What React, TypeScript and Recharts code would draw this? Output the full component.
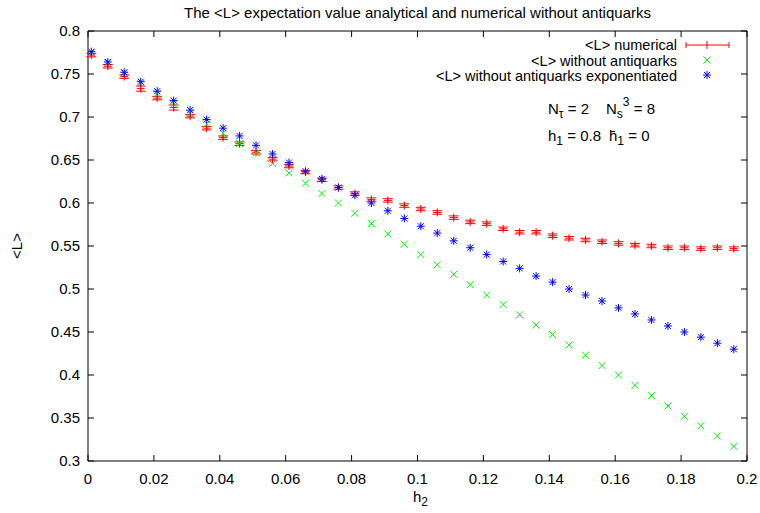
import { ScatterChart, Scatter, XAxis, YAxis, ErrorBar, ReferenceArea } from "recharts";

const h2 = [
  0.001, 0.006, 0.011, 0.016, 0.021, 0.026, 0.031, 0.036, 0.041, 0.046,
  0.051, 0.056, 0.061, 0.066, 0.071, 0.076, 0.081, 0.086, 0.091, 0.096,
  0.101, 0.106, 0.111, 0.116, 0.121, 0.126, 0.131, 0.136, 0.141, 0.146,
  0.151, 0.156, 0.161, 0.166, 0.171, 0.176, 0.181, 0.186, 0.191, 0.196,
];

const numerical = [
  0.772, 0.759, 0.747, 0.733, 0.722, 0.711, 0.701, 0.687, 0.676, 0.669,
  0.659, 0.651, 0.643, 0.636, 0.627, 0.618, 0.611, 0.604, 0.603, 0.597,
  0.593, 0.589, 0.583, 0.578, 0.576, 0.570, 0.566, 0.566, 0.562, 0.559,
  0.557, 0.555, 0.553, 0.551, 0.550, 0.548, 0.548, 0.547, 0.548, 0.547,
];

const numericalErr = [
  0.002, 0.002, 0.002, 0.003, 0.002, 0.003, 0.002, 0.002, 0.002, 0.002,
  0.002, 0.002, 0.002, 0.002, 0.002, 0.002, 0.002, 0.002, 0.002, 0.002,
  0.002, 0.002, 0.002, 0.002, 0.002, 0.002, 0.002, 0.002, 0.002, 0.002,
  0.002, 0.002, 0.002, 0.002, 0.002, 0.002, 0.002, 0.002, 0.002, 0.002,
];

const withoutAnti = [
  0.775, 0.763, 0.751, 0.739, 0.727, 0.715, 0.704, 0.692, 0.681, 0.669,
  0.658, 0.646, 0.635, 0.623, 0.611, 0.600, 0.588, 0.576, 0.564, 0.552,
  0.540, 0.528, 0.517, 0.505, 0.493, 0.482, 0.470, 0.458, 0.447, 0.435,
  0.423, 0.411, 0.400, 0.388, 0.376, 0.364, 0.352, 0.341, 0.329, 0.317,
];

const exponentiated = [
  0.776, 0.764, 0.752, 0.741, 0.730, 0.719, 0.708, 0.697, 0.687, 0.678,
  0.667, 0.657, 0.647, 0.637, 0.628, 0.618, 0.609, 0.600, 0.591, 0.582,
  0.573, 0.565, 0.556, 0.548, 0.540, 0.532, 0.524, 0.515, 0.508, 0.500,
  0.493, 0.486, 0.478, 0.471, 0.464, 0.457, 0.450, 0.444, 0.437, 0.430,
];

const xTicks = [0, 0.02, 0.04, 0.06, 0.08, 0.1, 0.12, 0.14, 0.16, 0.18, 0.2];
const yTicks = [0.3, 0.35, 0.4, 0.45, 0.5, 0.55, 0.6, 0.65, 0.7, 0.75, 0.8];

const W = 760;
const H = 513;
const TOP = 31;
const BOTTOM = 461;
const LEFT = 88;
const RIGHT = 747;
const FONT = "'Liberation Sans', Arial, sans-serif";
const FS = 15;
const SUB = 12;

const redData = h2.map((x, i) => ({ x, y: numerical[i], err: numericalErr[i] }));
const greenData = h2.map((x, i) => ({ x, y: withoutAnti[i] }));
const blueData = h2.map((x, i) => ({ x, y: exponentiated[i] }));

const fmt = (v: number) => String(Number(v.toFixed(2)));

const XTick = ({ x, payload }: any) => (
  <g>
    <line x1={x} x2={x} y1={BOTTOM} y2={BOTTOM - 6} stroke="#000" />
    <line x1={x} x2={x} y1={TOP} y2={TOP + 6} stroke="#000" />
    <text x={x} y={BOTTOM + 23} textAnchor="middle" fontFamily={FONT} fontSize={FS} fill="#000">
      {fmt(payload.value)}
    </text>
  </g>
);

const YTick = ({ y, payload }: any) => (
  <g>
    <line x1={LEFT} x2={LEFT + 6} y1={y} y2={y} stroke="#000" />
    <line x1={RIGHT} x2={RIGHT - 6} y1={y} y2={y} stroke="#000" />
    <text x={LEFT - 8} y={y + 5} textAnchor="end" fontFamily={FONT} fontSize={FS} fill="#000">
      {fmt(payload.value)}
    </text>
  </g>
);

const Plus = ({ cx, cy }: any) => (
  <path d={`M${cx - 4},${cy}H${cx + 4}M${cx},${cy - 4}V${cy + 4}`} stroke="#ff0000" fill="none" />
);

const Cross = ({ cx, cy }: any) => (
  <path d={`M${cx - 3.5},${cy - 3.5}L${cx + 3.5},${cy + 3.5}M${cx - 3.5},${cy + 3.5}L${cx + 3.5},${cy - 3.5}`} stroke="#00ee00" fill="none" />
);

const Star = ({ cx, cy }: any) => (
  <path
    d={`M${cx - 4},${cy}H${cx + 4}M${cx},${cy - 4}V${cy + 4}M${cx - 3},${cy - 3}L${cx + 3},${cy + 3}M${cx - 3},${cy + 3}L${cx + 3},${cy - 3}`}
    stroke="#0000ff"
    fill="none"
  />
);

export default function App() {
  const lx = 686;
  const rx = 729;
  const mx = 707;
  const textEnd = 677;
  const LFS = 14.5;
  return (
    <div style={{ position: "relative", width: W, height: H }}>
      <style>{"body{margin:0}"}</style>
      <ScatterChart width={W} height={H} margin={{ top: TOP, right: W - RIGHT, bottom: 0, left: 0 }}>
        <XAxis
          type="number"
          dataKey="x"
          domain={[0, 0.2]}
          ticks={xTicks}
          tick={<XTick />}
          axisLine={false}
          tickLine={false}
          height={H - BOTTOM}
          allowDataOverflow
        />
        <YAxis
          type="number"
          dataKey="y"
          domain={[0.3, 0.8]}
          ticks={yTicks}
          tick={<YTick />}
          axisLine={false}
          tickLine={false}
          width={LEFT}
          allowDataOverflow
        />
        <ReferenceArea x1={0} x2={0.2} y1={0.3} y2={0.8} fill="none" fillOpacity={0} stroke="#000" strokeWidth={1} />
        <Scatter data={redData} shape={<Plus />} isAnimationActive={false}>
          <ErrorBar dataKey="err" direction="y" width={5} stroke="#ff0000" strokeWidth={1} />
        </Scatter>
        <Scatter data={greenData} shape={<Cross />} isAnimationActive={false} />
        <Scatter data={blueData} shape={<Star />} isAnimationActive={false} />
      </ScatterChart>
      <svg
        width={W}
        height={H}
        style={{ position: "absolute", left: 0, top: 0, pointerEvents: "none" }}
        fontFamily={FONT}
        fontSize={FS}
      >
        <text x={(LEFT + RIGHT) / 2} y={18} textAnchor="middle">
          The &lt;L&gt; expectation value analytical and numerical without antiquarks
        </text>
        <text x={textEnd} y={50} textAnchor="end" fontSize={LFS}>&lt;L&gt; numerical</text>
        <text x={textEnd} y={65.5} textAnchor="end" fontSize={LFS}>&lt;L&gt; without antiquarks</text>
        <text x={textEnd} y={81} textAnchor="end" fontSize={LFS}>&lt;L&gt; without antiquarks exponentiated</text>
        <path d={`M${lx},45H${rx}M${lx},42V48M${rx},42V48M${mx},41V49`} stroke="#ff0000" fill="none" />
        <Cross cx={mx} cy={60} />
        <Star cx={mx} cy={75} />
        <text x={548} y={114}>
          N<tspan fontSize={SUB} dy={4}>τ</tspan>
          <tspan dy={-4}> = 2</tspan>
        </text>
        <text x={606} y={114}>
          N<tspan fontSize={SUB} dy={4}>s</tspan>
          <tspan fontSize={SUB} dy={-12}>3</tspan>
          <tspan dy={8}> = 8</tspan>
        </text>
        <text x={548} y={141}>
          h<tspan fontSize={SUB} dy={4}>1</tspan>
          <tspan dy={-4}> = 0.8</tspan>
        </text>
        <text x={609} y={141}>
          h̄<tspan fontSize={SUB} dy={4}>1</tspan>
          <tspan dy={-4}> = 0</tspan>
        </text>
        <text x={22} y={246} textAnchor="middle" transform="rotate(-90 22 246)">&lt;L&gt;</text>
        <text x={413} y={502}>
          h<tspan fontSize={SUB} dy={4}>2</tspan>
        </text>
      </svg>
    </div>
  );
}
